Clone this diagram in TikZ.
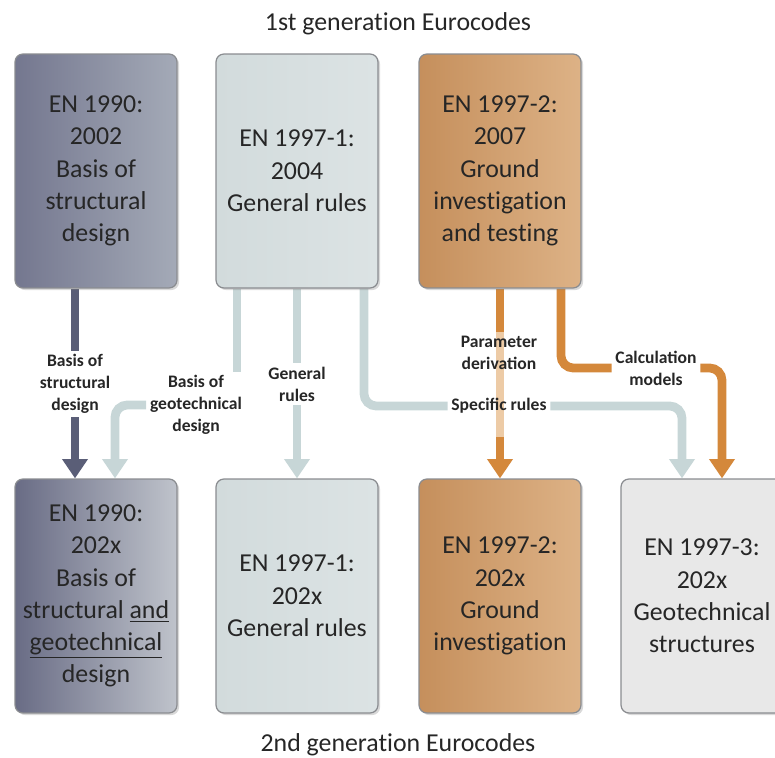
\documentclass[tikz,border=0pt]{standalone}
\usepackage{fontspec}
\setmainfont{Carlito}
\usetikzlibrary{arrows.meta,positioning,calc,shadows}
\pgfdeclarelayer{bg}
\pgfsetlayers{bg,main}

\definecolor{txt}{HTML}{262626}
\definecolor{boxline}{HTML}{8A8C90}
\definecolor{slateA}{HTML}{74778F}
\definecolor{slateB}{HTML}{A4AAB7}
\definecolor{slateC}{HTML}{696C85}
\definecolor{slateD}{HTML}{BFC3CB}
\definecolor{paleA}{HTML}{D2DBDC}
\definecolor{paleB}{HTML}{DCE3E4}
\definecolor{tanA}{HTML}{C58F5C}
\definecolor{tanB}{HTML}{DDB286}
\definecolor{greyC}{HTML}{E8E8E8}
\definecolor{dkline}{HTML}{5A5E77}
\definecolor{ltline}{HTML}{C7D6D7}
\definecolor{orline}{HTML}{D4883B}
\definecolor{orfade}{HTML}{EDCBA6}

\begin{document}
\begin{tikzpicture}[x=0.02cm,y=-0.02cm,>={Triangle[width=14pt,length=11pt]},
    every node/.style={text=txt},
    box/.style={draw=boxline,line width=0.7pt,rounded corners=4.5pt,align=center,
      minimum width=3.24cm,minimum height=4.68cm,inner sep=2pt,
      font=\fontsize{14.7}{18.4}\selectfont\addfontfeature{Ligatures=NoCommon},
      drop shadow={shadow xshift=1.2pt,shadow yshift=-1.2pt,opacity=0.3}},
    lab/.style={align=center,inner sep=2pt,font=\bfseries\fontsize{10}{12.5}\selectfont},
    title/.style={font=\fontsize{14.7}{18}\selectfont\addfontfeature{Ligatures=NoCommon}},
    conn/.style={line width=5pt,rounded corners=7pt}]
  \clip (0,0) rectangle (775,758);

  \node[title] (t1) at (398,24) {1st generation Eurocodes};
  \node[title] (t2) at (398,745) {2nd generation Eurocodes};

  % first generation
  \node[box,left color=slateA,right color=slateB] (s1) at (96,171) {EN 1990:\\2002\\Basis of\\structural\\design};
  \node[box,left color=paleA,right color=paleB] (s2) at (297,171) {EN 1997-1:\\2004\\General rules};
  \node[box,left color=tanA,right color=tanB] (s3) at (500,171) {EN 1997-2:\\2007\\Ground\\investigation\\and testing};

  % second generation
  \node[box,left color=slateC,right color=slateD] (n1) at (96,596) {EN 1990:\\202x\\Basis of\\structural \underline{and}\\\underline{geotechnical}\\design};
  \node[box,left color=paleA,right color=paleB] (n2) at (297,596) {EN 1997-1:\\202x\\General rules};
  \node[box,left color=tanA,right color=tanB] (n3) at (500,596) {EN 1997-2:\\202x\\Ground\\investigation};
  \node[box,fill=greyC] (n4) at (702,596) {EN 1997-3:\\202x\\Geotechnical\\structures};

  % labels on the links
  \node[lab] (lbs) at (75,384) {Basis of\\structural\\design};
  \node[lab] (lbg) at (196,405) {Basis of\\geotechnical\\design};
  \node[lab] (lgr) at (297,384) {General\\rules};
  \node[lab] (lpd) at (499,353) {Parameter\\derivation};
  \node[lab] (lsr) at (499,406) {Specific rules};
  \node[lab] (lcm) at (656,368) {Calculation\\models};

  \coordinate (g1) at ($(s2.south)+(-60,0)$);
  \coordinate (g2) at ($(s2.south)+(67,0)$);
  \coordinate (c1) at ($(s3.south)+(61,0)$);
  \coordinate (p1) at (s3.south |- lpd.north);
  \coordinate (p2) at ($(s3.south |- lsr.south)+(0,20)$);

  \begin{pgfonlayer}{bg}
    \draw[conn,dkline] ($(s1.south)+(-21,0)$) -- (lbs.north);
    \draw[conn,dkline,->] (lbs.south) -- ($(n1.north)+(-21,0)$);
    \draw[conn,ltline] (g1) -- (g1 |- lbg.north);
    \draw[conn,ltline,->] (lbg.west) -| ($(n1.north)+(19,0)$);
    \draw[conn,ltline] (s2.south) -- (lgr.north);
    \draw[conn,ltline,->] (lgr.south) -- (n2.north);
    \draw[conn,ltline] (g2) |- (lsr.west);
    \draw[conn,ltline,->] (lsr.east) -| ($(n4.north)+(-20,0)$);
    \draw[conn,orline] (s3.south) -- (p1);
    \draw[conn,orfade] (p1) -- (p2);
    \draw[conn,orline,->] (p2) -- (n3.north);
    \draw[conn,orline] (c1) |- (lcm.west);
    \draw[conn,orline,->] (lcm.east) -| ($(n4.north)+(20,0)$);
  \end{pgfonlayer}
\end{tikzpicture}
\end{document}
